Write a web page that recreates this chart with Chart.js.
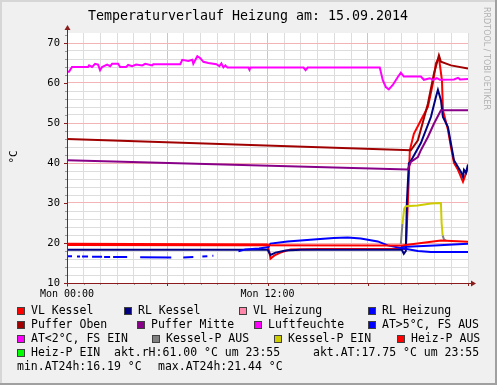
<!DOCTYPE html>
<html>
<head>
<meta charset="utf-8">
<script src="https://cdn.jsdelivr.net/npm/chart.js@4.4.0/dist/chart.umd.min.js"></script>
<style>
  html, body { margin: 0; padding: 0; background: #f0f0f0; }
  canvas { display: block; }
</style>
</head>
<body>
<canvas id="heizung" width="497" height="385"></canvas>
<script>
// --- data (x = hours since Mon 00:00) ---
const titleText = 'Temperaturverlauf Heizung am: 15.09.2014';
const yTitle = '°C';
const xTickLabels = { 0: 'Mon 00:00', 12: 'Mon 12:00' };

const legendLabels = ['VL Kessel', 'RL Kessel', 'VL Heizung', 'RL Heizung',
  'Puffer Oben', 'Puffer Mitte', 'Luftfeuchte', 'AT>5°C, FS AUS',
  'AT<2°C, FS EIN', 'Kessel-P AUS', 'Kessel-P EIN', 'Heiz-P AUS', 'Heiz-P EIN'];
const legendColors = ['#ff0000', '#000080', '#ff88aa', '#0000ff',
  '#a00000', '#880088', '#ff00ff', '#0000ff',
  '#ff00ff', '#808080', '#cccc00', '#ff0000', '#00ff00'];
const infoTexts = ['akt.rH:61.00 °C um 23:55', 'akt.AT:17.75 °C um 23:55',
  'min.AT24h:16.19 °C', 'max.AT24h:21.44 °C'];

const vlKesselT = [0, 12.0, 12.12, 12.18, 12.42, 12.78, 13.38, 15, 20.28, 20.4, 20.52, 20.76, 21.18, 21.6, 21.9, 22.08, 22.26, 22.44, 22.5, 22.8, 22.98, 23.16, 23.4, 23.7, 24];
const vlKesselV = [19.8, 19.6, 17.5, 16.1, 16.9, 17.6, 18.4, 18.5, 18.5, 30, 43.2, 47.3, 50.7, 54.0, 59.9, 64.9, 66.3, 60.7, 53.2, 48.3, 44.0, 40.0, 38.3, 35.3, 38.8];

const rlKesselT = [0, 12.0, 12.18, 12.48, 13.08, 14, 20.04, 20.16, 20.28, 20.34, 20.46, 20.58, 21.18, 21.78, 22.08, 22.2, 22.38, 22.5, 22.8, 22.98, 23.16, 23.4, 23.58, 23.7, 23.76, 23.88, 24];
const rlKesselV = [18.3, 18.3, 17.0, 17.6, 18.1, 18.3, 18.3, 17.3, 18.0, 30.0, 39.9, 40.5, 45.0, 51.5, 56.5, 58.3, 55.7, 51.5, 49.0, 44.8, 40.7, 39.0, 37.75, 36.5, 38.3, 37.6, 39.6];

const rlHeizungT = [19.98, 22.0, 24];
const rlHeizungV = [19.0, 19.4, 19.8];

const pufferObenT = [0, 20.58, 21.0, 21.6, 21.96, 22.26, 22.38, 22.98, 24];
const pufferObenV = [46.0, 43.2, 45.7, 54.8, 62.3, 66.9, 65.3, 64.4, 63.6];

const pufferMitteT = [0, 20.4, 20.58, 21.0, 21.18, 21.6, 21.96, 22.38, 24];
const pufferMitteV = [40.7, 38.4, 40.3, 41.5, 43.2, 46.5, 49.8, 53.2, 53.2];

const luftT = [0, 0.12, 0.3, 1.26, 1.32, 1.5, 1.68, 1.86, 1.98, 2.1, 2.4, 2.58, 2.7, 3.06, 3.18, 3.54, 3.66, 3.9, 4.14, 4.5, 4.68, 5.1, 5.16, 6.78, 6.9, 7.26, 7.5, 7.56, 7.8, 7.98, 8.16, 8.46, 8.94, 9.12, 9.24, 9.36, 9.48, 9.6, 10.86, 10.92, 10.98, 14.16, 14.28, 14.4, 18.72, 18.9, 19.08, 19.26, 19.5, 19.8, 19.98, 20.16, 21.18, 21.36, 21.72, 21.9, 22.14, 22.32, 23.16, 23.4, 23.52, 24];
const luftV = [62.8, 62.8, 64.0, 64.0, 64.4, 64.0, 64.8, 64.6, 63.2, 64.0, 64.6, 64.2, 64.8, 64.8, 64.0, 64.0, 64.5, 64.2, 64.6, 64.4, 64.8, 64.4, 64.7, 64.7, 65.8, 65.5, 65.8, 64.8, 66.7, 66.2, 65.3, 65.0, 64.7, 64.2, 64.9, 63.9, 64.4, 63.85, 63.85, 63.3, 63.85, 63.85, 63.2, 63.85, 63.85, 60.7, 59.0, 58.4, 59.5, 61.5, 62.6, 61.6, 61.6, 60.8, 61.2, 60.8, 61.2, 60.8, 60.9, 61.3, 60.9, 61.0];

const atT = [0.06, 0.3, 0.42, 0.6, 0.78, 0.84, 0.9, 1.26, 1.35, 1.5, 2.1, 2.16, 2.22, 2.58, 2.7, 2.76, 3.6, 4.0, 4.38, 6.24, 6.6, 6.96, 7.56, 7.8, 8.1, 8.4, 8.6, 8.7, 8.76, 9.5, 10.26, 10.68, 11.5, 12.06, 12.18, 13.2, 14.76, 15.96, 16.8, 17.58, 18.6, 19.2, 19.98, 21.0, 21.78, 24];
const atV = [16.7, 16.7, null, 16.6, 16.6, null, 16.6, 16.6, null, 16.55, 16.55, null, 16.5, 16.5, null, 16.5, 16.5, null, 16.45, 16.4, null, 16.4, 16.5, null, 16.6, 16.7, null, 16.8, 16.8, null, 17.9, 18.4, 18.6, 19.0, 19.85, 20.4, 20.9, 21.25, 21.4, 21.1, 20.4, 19.4, 18.75, 18.0, 17.75, 17.75];

const kesselAusT = [19.98, 20.04, 20.08, 21.0, 22.48, 22.56, 22.68];
const kesselAusV = [19.8, 23.0, 24.8, null, 21.9, 20.9, 20.6];

const kesselEinT = [20.08, 20.18, 20.28, 20.98, 21.78, 22.38, 22.42, 22.48];
const kesselEinV = [24.8, 28.6, 29.2, 29.4, 29.9, 30.0, 25.0, 21.9];

const heizAusT = [0, 20.04, 22.38, 24];
const heizAusV = [19.5, 19.4, 20.6, 20.3];

// --- layout ---
const PLOT = { left: 67, right: 468, top: 33, bottom: 283 };
const legendRows = [
  { y: 311, items: [[0, 17], [1, 124], [2, 239], [3, 368]] },
  { y: 325, items: [[4, 17], [5, 137], [6, 254], [7, 368]] },
  { y: 339, items: [[8, 17], [9, 152], [10, 274], [11, 397]] },
  { y: 353, items: [[12, 17]] }
];
const infoPos = [[114, 353], [313, 353], [17, 367], [158, 367]];
const MONO = '"DejaVu Sans Mono", monospace';
const AXIS = '#8b1c1c';
const GRID_MINOR = '#dddddd';
const GRID_MAJOR = '#f2b4b4';

const pts = (t, v) => t.map((x, i) => ({ x, y: v[i] }));

// order: higher number drawn first (below), like rrdtool definition order
const line = (label, t, v, color, order) => ({
  label, data: pts(t, v), borderColor: color, backgroundColor: color,
  borderWidth: 2, pointRadius: 0, tension: 0, spanGaps: false, order
});

const datasets = [
  line(legendLabels[0], vlKesselT, vlKesselV, legendColors[0], 13),
  line(legendLabels[1], rlKesselT, rlKesselV, legendColors[1], 12),
  line(legendLabels[3], rlHeizungT, rlHeizungV, legendColors[3], 10),
  line(legendLabels[4], pufferObenT, pufferObenV, legendColors[4], 9),
  line(legendLabels[5], pufferMitteT, pufferMitteV, legendColors[5], 8),
  line(legendLabels[6], luftT, luftV, legendColors[6], 7),
  line(legendLabels[7], atT, atV, legendColors[7], 6),
  line(legendLabels[9], kesselAusT, kesselAusV, legendColors[9], 4),
  line(legendLabels[10], kesselEinT, kesselEinV, legendColors[10], 3),
  line(legendLabels[11], heizAusT, heizAusV, legendColors[11], 2)
];

// background, axes with arrows, title, legend, watermark
const rrdFrame = {
  id: 'rrdFrame',
  beforeDraw(chart) {
    const { ctx, chartArea: a } = chart;
    ctx.save();
    ctx.fillStyle = '#f0f0f0';
    ctx.fillRect(0, 0, chart.width, chart.height);
    ctx.fillStyle = '#ffffff';
    ctx.fillRect(a.left, a.top, a.right - a.left, a.bottom - a.top);
    ctx.restore();
  },
  afterDraw(chart) {
    const { ctx, chartArea: a, scales: { x, y } } = chart;
    ctx.save();

    // tick marks
    for (let h = 0; h <= 24; h++) {
      const px = Math.round(x.getPixelForValue(h)) + 0.5;
      ctx.strokeStyle = h % 6 === 0 ? AXIS : '#999';
      ctx.beginPath();
      ctx.moveTo(px, a.bottom);
      ctx.lineTo(px, a.bottom + (h % 6 === 0 ? 3 : 2));
      ctx.stroke();
    }
    for (let v = 10; v <= 72; v += 2) {
      const py = Math.round(y.getPixelForValue(v)) + 0.5;
      ctx.strokeStyle = v % 10 === 0 ? AXIS : '#999';
      ctx.beginPath();
      ctx.moveTo(a.left, py);
      ctx.lineTo(a.left - (v % 10 === 0 ? 3 : 2), py);
      ctx.stroke();
    }

    // axes
    ctx.strokeStyle = AXIS;
    ctx.fillStyle = AXIS;
    ctx.lineWidth = 1;
    const ax = Math.round(a.left) + 0.5, ay = Math.round(a.bottom) + 0.5;
    ctx.beginPath();
    ctx.moveTo(ax - 3, ay); ctx.lineTo(a.right + 4, ay);
    ctx.moveTo(ax, ay + 3); ctx.lineTo(ax, a.top - 4);
    ctx.stroke();
    ctx.beginPath();
    ctx.moveTo(a.right + 8, ay); ctx.lineTo(a.right + 3, ay - 3); ctx.lineTo(a.right + 3, ay + 3);
    ctx.closePath(); ctx.fill();
    ctx.beginPath();
    ctx.moveTo(ax, a.top - 8); ctx.lineTo(ax - 3, a.top - 3); ctx.lineTo(ax + 3, a.top - 3);
    ctx.closePath(); ctx.fill();

    // title
    ctx.fillStyle = '#000';
    ctx.font = '13.3px ' + MONO;
    ctx.textAlign = 'center';
    ctx.textBaseline = 'middle';
    ctx.fillText(titleText, 248, 17);

    // y title
    ctx.save();
    ctx.translate(14, 157);
    ctx.rotate(-Math.PI / 2);
    ctx.font = '11px ' + MONO;
    ctx.fillText(yTitle, 0, 0);
    ctx.restore();

    // watermark
    ctx.save();
    ctx.translate(486, 7);
    ctx.rotate(Math.PI / 2);
    ctx.font = '8px "DejaVu Sans", sans-serif';
    ctx.fillStyle = '#b0b0b0';
    ctx.textAlign = 'left';
    ctx.fillText('RRDTOOL / TOBI OETIKER', 0, 0);
    ctx.restore();

    // legend
    ctx.font = '11.5px ' + MONO;
    ctx.textAlign = 'left';
    ctx.textBaseline = 'middle';
    legendRows.forEach(row => {
      row.items.forEach(([idx, lx]) => {
        ctx.fillStyle = legendColors[idx];
        ctx.fillRect(lx, row.y - 4, 8, 8);
        ctx.strokeStyle = '#404040';
        ctx.strokeRect(lx + 0.5, row.y - 3.5, 7, 7);
        ctx.fillStyle = '#000';
        ctx.fillText(legendLabels[idx], lx + 14, row.y);
      });
    });
    infoTexts.forEach((t, i) => ctx.fillText(t, infoPos[i][0], infoPos[i][1]));

    // frame
    ctx.fillStyle = '#d6d6d6';
    ctx.fillRect(0, 0, chart.width, 2);
    ctx.fillRect(0, 0, 2, chart.height);
    ctx.fillStyle = '#a0a0a0';
    ctx.fillRect(0, chart.height - 2, chart.width, 2);
    ctx.fillRect(chart.width - 2, 0, 2, chart.height);
    ctx.restore();
  }
};

new Chart(document.getElementById('heizung'), {
  type: 'line',
  data: { datasets },
  options: {
    responsive: false,
    animation: false,
    devicePixelRatio: 1,
    layout: { padding: { top: PLOT.top, left: 0, right: 497 - PLOT.right, bottom: 385 - PLOT.bottom - 20 } },
    plugins: { legend: { display: false }, tooltip: { enabled: false }, title: { display: false } },
    scales: {
      x: {
        type: 'linear', min: 0, max: 24,
        afterFit: s => { s.height = 20; },
        border: { display: false },
        grid: {
          drawTicks: false,
          color: c => (c.tick.value === 0 ? 'rgba(0,0,0,0)' : (c.tick.value % 6 === 0 && c.tick.value !== 24 ? GRID_MAJOR : GRID_MINOR))
        },
        ticks: {
          stepSize: 1, autoSkip: false, maxRotation: 0, padding: 5,
          color: '#000', font: { family: MONO, size: 10 },
          callback: v => xTickLabels[v] || ''
        }
      },
      y: {
        min: 10, max: 72.5,
        afterFit: s => { s.width = PLOT.left; },
        border: { display: false },
        grid: {
          drawTicks: false,
          color: c => {
            const v = c.tick.value;
            if (v === 10 || v % 2 !== 0) return 'rgba(0,0,0,0)';
            return v % 10 === 0 ? GRID_MAJOR : GRID_MINOR;
          }
        },
        ticks: {
          stepSize: 2, autoSkip: false, padding: 7,
          color: '#000', font: { family: MONO, size: 10.5 },
          callback: v => (v % 10 === 0 ? v : '')
        }
      }
    }
  },
  plugins: [rrdFrame]
});
</script>
</body>
</html>
